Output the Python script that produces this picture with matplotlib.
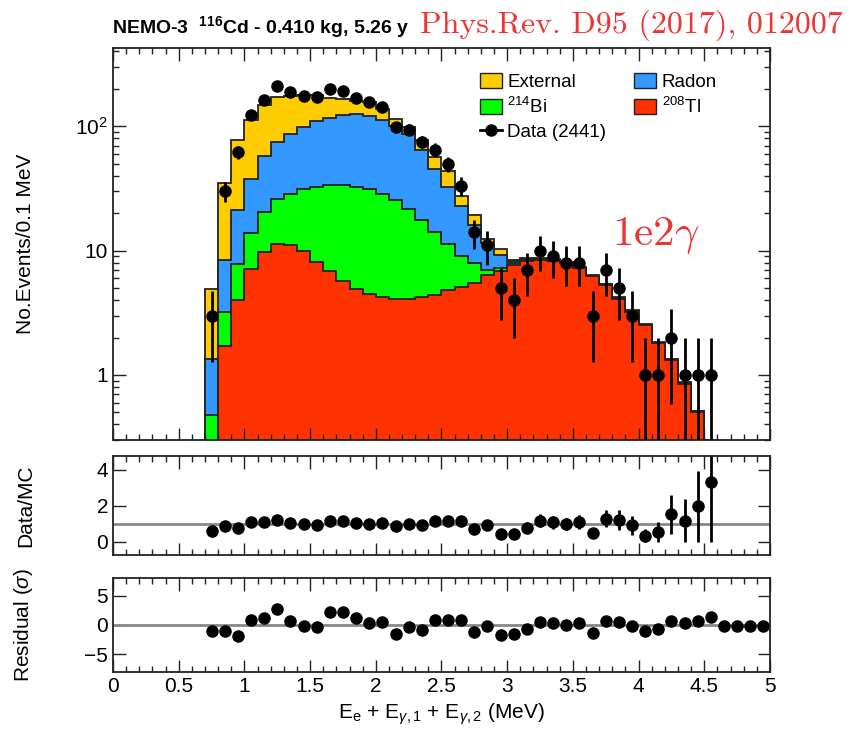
#!/usr/bin/env python3
"""NEMO-3 116Cd 1e2g channel: stacked MC, data, ratio and residual panels."""

import numpy as np
import matplotlib
matplotlib.use('Agg')
import matplotlib.pyplot as plt
from matplotlib.patches import Patch
from matplotlib.lines import Line2D
from matplotlib.ticker import MultipleLocator, FixedLocator, FuncFormatter, LogLocator, NullLocator

plt.rcParams.update({
    'font.family': ['Liberation Sans', 'DejaVu Sans'],
    'mathtext.fontset': 'custom',
    'mathtext.rm': 'Liberation Sans',
    'mathtext.it': 'Liberation Sans:italic',
    'mathtext.bf': 'Liberation Sans:bold',
})

# bins of 0.1 MeV, from 0.7 to 5.0 MeV
bin_lo = 0.7
bin_w = 0.1

# MC components (events / bin)
tl208 = [0.0, 1.7, 4.0, 7.1, 9.7, 11.3, 11.0, 9.9, 8.1, 6.8, 5.7, 4.9, 4.5,
         4.25, 4.1, 4.1, 4.2, 4.4, 4.8, 5.1, 5.5, 6.4, 6.8,
         7.6, 8.2, 8.4, 8.3, 7.9, 7.2, 6.2, 5.3, 4.1, 3.2,
         2.5, 1.8, 1.31, 0.85, 0.5, 0.29, 0.12, 0.05, 0.02, 0.01]
bi214 = [0.48, 1.5, 3.8, 6.8, 10.7, 14.7, 17.6, 21.5, 24.3, 26.6, 27.7, 27.5, 26.9,
         24.4, 21.2, 17.4, 13.3, 9.6, 6.5, 4.0, 2.5, 0.6, 0.5,
         0.3, 0.15, 0.1, 0.1, 0.1, 0.05, 0.05, 0.03, 0.02, 0.02,
         0.02, 0.01, 0.01, 0.005, 0.005, 0.002, 0.001, 0.0, 0.0, 0.0]
radon = [0.87, 5.2, 13.5, 24.0, 37.6, 49.0, 58.4, 67.6, 77.6, 83.6, 89.6, 92.6, 88.6,
         83.4, 74.7, 65.5, 46.5, 31.6, 21.1, 13.9, 8.0, 4.5, 2.0,
         0.3, 0.15, 0.1, 0.05, 0.05, 0.05, 0.05, 0.03, 0.03, 0.03,
         0.02, 0.01, 0.01, 0.005, 0.005, 0.003, 0.001, 0.0, 0.0, 0.0]
external = [3.55, 26.6, 56.7, 74.1, 90.0, 97.0, 89.0, 79.0, 67.0, 53.0, 42.0, 34.0, 37.0,
            25.0, 14.0, 12.0, 14.0, 11.4, 11.6, 4.5, 3.3, 1.0, 1.0,
            0.2, 0.2, 0.1, 0.05, 0.05, 0.05, 0.05, 0.04, 0.05, 0.05,
            0.01, 0.01, 0.01, 0.01, 0.005, 0.005, 0.002, 0.0, 0.0, 0.0]

# data counts per bin
data = [3, 30, 62, 124, 164, 211, 190, 175, 172, 201, 193, 170, 157,
        143, 98, 94, 75, 65, 50, 33, 14, 11, 5,
        4, 7, 10, 9, 8, 8, 3, 7, 5, 3,
        1, 1, 2, 1, 1, 1, 0, 0, 0, 0]

# Data/MC (shown up to 4.55 MeV)
ratio = [0.6, 0.86, 0.79, 1.09, 1.09, 1.22, 1.04, 0.97, 0.95, 1.18, 1.18, 1.07, 1.0,
         1.04, 0.86, 0.97, 0.92, 1.15, 1.15, 1.18, 0.7, 0.95, 0.44,
         0.44, 0.79, 1.18, 1.09, 1.0, 1.09, 0.48, 1.3, 1.22, 0.92,
         0.35, 0.56, 1.53, 1.18, 1.97, 3.3]

# residual in sigma
residual = [-1.05, -1.05, -1.86, 0.93, 1.16, 2.67, 0.76, -0.12, -0.41, 2.2, 2.2, 1.16, 0.29,
            0.47, -1.57, -0.41, -0.81, 0.93, 0.93, 0.93, -1.16, -0.23, -1.74,
            -1.57, -0.7, 0.58, 0.29, 0.06, 0.29, -1.4, 0.76, 0.58, -0.12,
            -0.99, -0.7, 0.64, 0.29, 0.64, 1.34, -0.23, -0.23, -0.23, -0.1]

COL_EXT = '#ffcc00'
COL_RN = '#3399ff'
COL_BI = '#00ff00'
COL_TL = '#ff3300'

n = len(data)
edges = bin_lo + bin_w * np.arange(n + 1)
centers = edges[:-1] + bin_w / 2
data = np.array(data, dtype=float)

layers = np.cumsum(np.array([tl208, bi214, radon, external]), axis=0)

W, H = 854, 733
fig = plt.figure(figsize=(W / 100, H / 100), dpi=100)


def px_axes(left, top, right, bottom):
    return fig.add_axes([left / W, 1 - bottom / H, (right - left) / W, (bottom - top) / H])


ax = px_axes(113, 48, 770, 440)
axr = px_axes(113, 456, 770, 555)
axs = px_axes(113, 578, 770, 672)

# ---- main panel ----
floor = 1e-3
for cum, col in zip(layers[::-1], [COL_EXT, COL_RN, COL_BI, COL_TL]):
    vals = np.maximum(cum, floor)
    ax.stairs(vals, edges, baseline=floor, fill=True, color=col)
    ax.stairs(vals, edges, baseline=floor, fill=False, color='#222222', lw=1.3)

m = data > 0
err = np.sqrt(data[m])
lo = np.minimum(err, data[m] - 1e-3)
ax.errorbar(centers[m], data[m], yerr=[lo, err], fmt='o', color='black',
            ms=8, elinewidth=2, capsize=0, zorder=5)

ax.set_yscale('log')
ax.set_ylim(0.3, 426)
ax.set_xlim(0, 5)
ax.yaxis.set_major_locator(FixedLocator([1, 10, 100]))
ax.yaxis.set_major_formatter(FuncFormatter(
    lambda v, p: {1: '1', 10: '10', 100: r'$10^{2}$'}.get(int(round(v)), '')))
ax.yaxis.set_minor_locator(LogLocator(base=10, subs=np.arange(2, 10)))
ax.yaxis.set_minor_formatter(FuncFormatter(lambda v, p: ''))
ax.set_ylabel('No.Events/0.1 MeV', fontsize=15)
ax.yaxis.set_label_coords(-0.119, 0.5)

handles = [Patch(facecolor=COL_EXT, edgecolor='#222222'),
           Patch(facecolor=COL_BI, edgecolor='#222222'),
           Line2D([], [], color='black', marker='o', ms=8, lw=2),
           Patch(facecolor=COL_RN, edgecolor='#222222'),
           Patch(facecolor=COL_TL, edgecolor='#222222')]
labels = ['External', r'$^{214}$Bi', 'Data (2441)', 'Radon', r'$^{208}$Tl']
ax.legend(handles, labels, ncol=2, loc='upper left', bbox_to_anchor=(0.533, 0.978),
          frameon=False, fontsize=13.5, handlelength=1.15, handleheight=0.85,
          labelspacing=0.3, columnspacing=1.5, handletextpad=0.3)

ax.text(612 / W, 1 - 245 / H, r'1e2$\gamma$', transform=fig.transFigure,
        fontsize=31, color='#ee3333', family='cmr10', math_fontfamily='cm',
        va='baseline')

# ---- ratio panel ----
nr = len(ratio)
ratio = np.array(ratio)
axr.axhline(1, color='#888888', lw=2)
axr.errorbar(centers[:nr], ratio, yerr=ratio / np.sqrt(data[:nr]), fmt='o',
             color='black', ms=8, elinewidth=2, capsize=0)
axr.set_xlim(0, 5)
axr.set_ylim(-0.72, 4.76)
axr.yaxis.set_major_locator(FixedLocator([0, 2, 4]))
axr.yaxis.set_minor_locator(NullLocator())
axr.set_ylabel('Data/MC', fontsize=15)
axr.yaxis.set_label_coords(-0.119, 0.5)

# ---- residual panel ----
axs.axhline(0, color='#888888', lw=2)
axs.plot(centers, residual, 'o', color='black', ms=8)
axs.set_xlim(0, 5)
axs.set_ylim(-8, 8)
axs.yaxis.set_major_locator(FixedLocator([-5, 0, 5]))
axs.yaxis.set_minor_locator(NullLocator())
axs.yaxis.set_major_formatter(FuncFormatter(lambda v, p: f'{v:g}'.replace('-', '\u2212')))
axs.set_ylabel(r'Residual ($\sigma$)', fontsize=15)
axs.yaxis.set_label_coords(-0.119, 0.5)
axs.xaxis.set_major_formatter(FuncFormatter(lambda v, p: f'{v:g}'))
axs.set_xlabel(r'E$_{\mathrm{e}}$ + E$_{\gamma,1}$ + E$_{\gamma,2}$ (MeV)', fontsize=15, labelpad=4)

for a in (ax, axr, axs):
    a.xaxis.set_major_locator(MultipleLocator(0.5))
    a.xaxis.set_minor_locator(MultipleLocator(0.1))
    a.tick_params(which='both', direction='in', top=True, right=True, labelsize=15,
                  width=1.0, color='#222222')
    a.tick_params(which='major', length=9)
    a.tick_params(which='minor', length=4.5)
    for s in a.spines.values():
        s.set_linewidth(1.3)
        s.set_color('#222222')
ax.tick_params(axis='x', labelbottom=False)
axr.tick_params(axis='x', labelbottom=False)

# header
fig.text(112 / W, 1 - 27 / H, r'NEMO-3  $^{\mathbf{116}}$Cd - 0.410 kg, 5.26 y',
         fontsize=14, weight='bold', va='center')
fig.text(420 / W, 1 - 25 / H, 'Phys.Rev. D95 (2017), 012007', fontsize=23,
         color='#ee3333', family='cmr10', va='center')

fig.savefig('out.png', dpi=100)
